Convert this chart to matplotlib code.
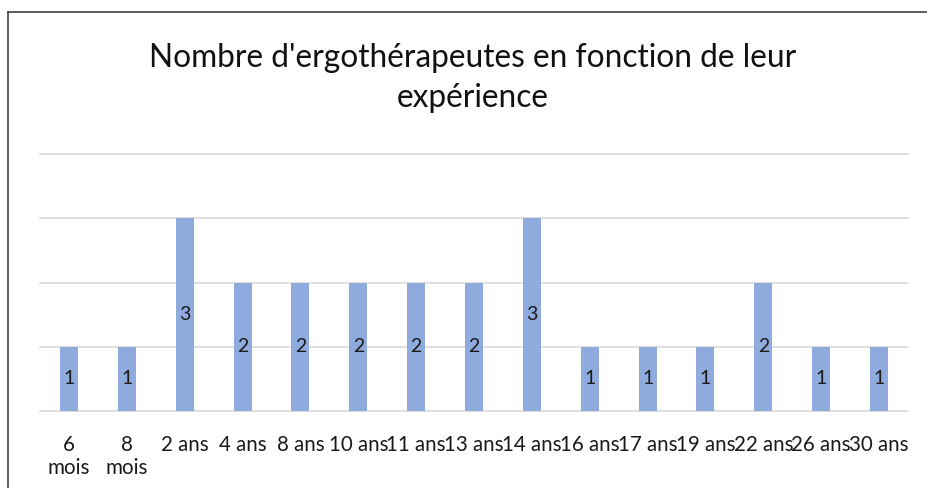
import matplotlib.pyplot as plt
from matplotlib.lines import Line2D

categories = ['6\nmois', '8\nmois', '2 ans', '4 ans', '8 ans', '10 ans', '11 ans',
              '13 ans', '14 ans', '16 ans', '17 ans', '19 ans', '22 ans', '26 ans', '30 ans']
counts = [1, 1, 3, 2, 2, 2, 2, 2, 3, 1, 1, 1, 2, 1, 1]

plt.rcParams['font.family'] = ['Lato', 'DejaVu Sans']

W, H = 928, 488
fig = plt.figure(figsize=(W / 100, H / 100), dpi=100)
ax = fig.add_axes([40 / W, 1 - 411 / H, 868 / W, (411 - 154) / H])

x = range(len(categories))
bars = ax.bar(x, counts, width=0.31, color='#8faadc', zorder=2)
for b, v in zip(bars, counts):
    ax.text(b.get_x() + b.get_width() / 2, v / 2, str(v), ha='center', va='center',
            fontsize=14, color='#1a1a1a', zorder=3)

ax.set_xlim(-0.5, len(categories) - 0.5)
ax.set_ylim(0, 4)
ax.set_yticks([0, 1, 2, 3, 4])
ax.yaxis.grid(True, color='#d9d9d9', linewidth=1.2, zorder=0)
for gl in ax.get_ygridlines():
    gl.set_clip_on(False)
ax.tick_params(axis='y', length=0, labelleft=False)
ax.set_xticks(list(x))
ax.set_xticklabels(categories, fontsize=14.8, color='#1a1a1a', linespacing=1.2)
ax.tick_params(axis='x', length=0, pad=17)
for s in ax.spines.values():
    s.set_visible(False)

fig.text(473 / W, 1 - 58 / H, "Nombre d'ergothérapeutes en fonction de leur", ha='center',
         va='center', fontsize=22.8, color='#111111')
fig.text(473 / W, 1 - 98 / H, "expérience", ha='center', va='center',
         fontsize=22.8, color='#111111')

# cadre
fig.add_artist(Line2D([8 / W, 8 / W], [0, 1 - 12 / H], color='#404040', linewidth=1.2,
                      transform=fig.transFigure))
fig.add_artist(Line2D([8 / W, 1], [1 - 12 / H, 1 - 12 / H], color='#404040', linewidth=1.2,
                      transform=fig.transFigure))

fig.savefig('out.png', dpi=100)
